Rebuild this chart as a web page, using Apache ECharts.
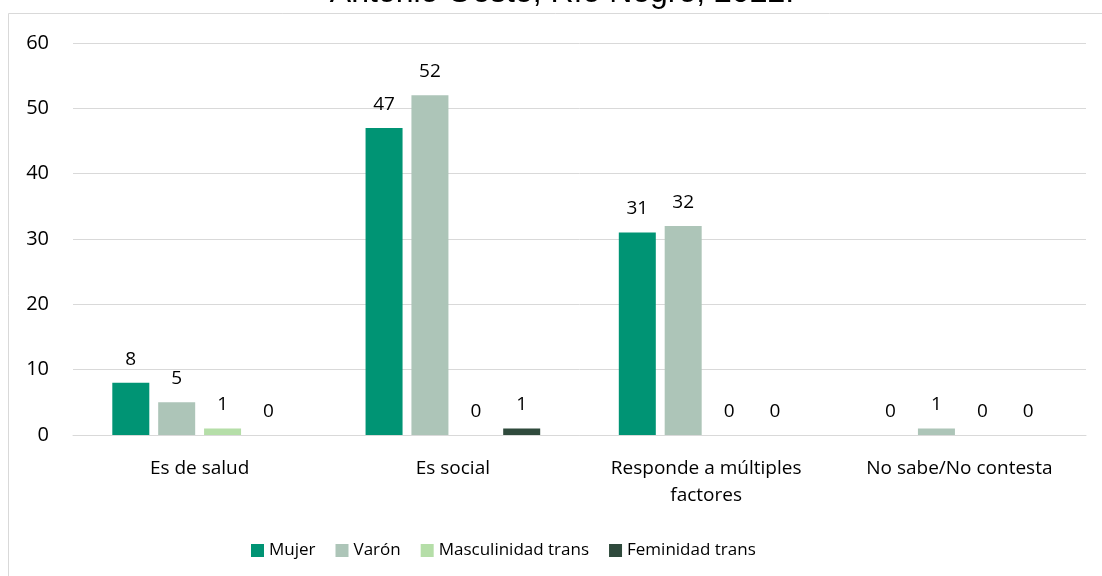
<!DOCTYPE html>
<html>
<head>
<meta charset="utf-8">
<script src="https://cdn.jsdelivr.net/npm/echarts@6/dist/echarts.min.js"></script>
<style>
  html, body { margin: 0; padding: 0; background: #fff; }
  #chart { width: 1102px; height: 576px; }
</style>
</head>
<body>
<div id="chart"></div>
<script>
// datos
const categorias = ['Es de salud', 'Es social', 'Responde a múltiples\nfactores', 'No sabe/No contesta'];
const mujer = [8, 47, 31, 0];
const varon = [5, 52, 32, 1];
const mascTrans = [1, 0, 0, 0];
const femTrans = [0, 1, 0, 0];
const yTicks = [0, 10, 20, 30, 40, 50, 60];

const FONT = '"Open Sans", sans-serif';
const chart = echarts.init(document.getElementById('chart'), null, { renderer: 'canvas' });

function barSerie(name, data, color) {
  return {
    name: name,
    type: 'bar',
    data: data,
    barWidth: 37,
    barGap: '24%',
    itemStyle: { color: color },
    label: {
      show: true,
      position: 'top',
      distance: 14,
      color: '#000',
      fontFamily: FONT,
      fontSize: 19
    }
  };
}

const option = {
  backgroundColor: '#fff',
  animation: false,
  graphic: [
    {
      type: 'rect',
      shape: { x: 8.5, y: 13.5, width: 1200, height: 700 },
      style: { fill: 'none', stroke: '#d9d9d9', lineWidth: 1 },
      silent: true
    },
    {
      type: 'text',
      x: 562,
      y: 9,
      style: {
        text: 'Antonio Oeste, Río Negro, 2022.',
        fontFamily: '"Liberation Sans", Arial, sans-serif',
        fontSize: 32,
        fill: '#000',
        textAlign: 'center',
        textVerticalAlign: 'bottom'
      }
    }
  ],
  grid: {
    left: 73,
    right: 16,
    top: 43,
    bottom: 141,
    containLabel: false
  },
  legend: {
    bottom: 12,
    left: 246,
    itemWidth: 13,
    itemHeight: 13,
    itemGap: 20,
    icon: 'rect',
    textStyle: { fontFamily: FONT, fontSize: 17, color: '#000' },
    data: ['Mujer', 'Varón', 'Masculinidad trans', 'Feminidad trans']
  },
  xAxis: {
    type: 'category',
    data: categorias,
    axisLine: { lineStyle: { color: '#d9d9d9', width: 1 } },
    axisTick: { show: false },
    axisLabel: {
      color: '#000',
      fontFamily: FONT,
      fontSize: 19,
      margin: 20,
      lineHeight: 27,
      interval: 0
    }
  },
  yAxis: {
    type: 'value',
    min: yTicks[0],
    max: yTicks[yTicks.length - 1],
    interval: 10,
    axisLine: { show: false },
    axisTick: { show: false },
    splitLine: { lineStyle: { color: '#d9d9d9', width: 1 } },
    axisLabel: {
      color: '#000',
      fontFamily: FONT,
      fontSize: 20,
      margin: 24
    }
  },
  series: [
    barSerie('Mujer', mujer, '#009474'),
    barSerie('Varón', varon, '#adc5b8'),
    barSerie('Masculinidad trans', mascTrans, '#b5dea8'),
    barSerie('Feminidad trans', femTrans, '#2f4a3c')
  ]
};

chart.setOption(option);
</script>
</body>
</html>
